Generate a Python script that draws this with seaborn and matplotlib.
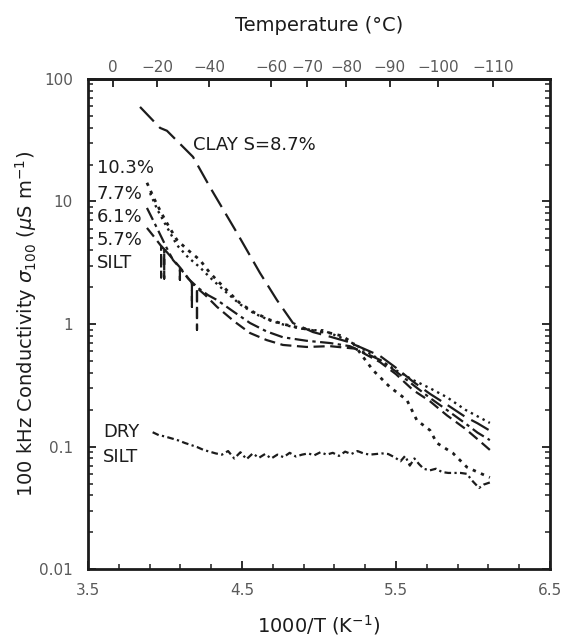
import numpy as np
import pandas as pd
import matplotlib
matplotlib.use("Agg")
import matplotlib.pyplot as plt
import seaborn as sns
from matplotlib.ticker import FixedLocator, FuncFormatter, NullFormatter, LogLocator

# ---------------- data (x = 1000/T, y = conductivity uS/m) ----------------
clay_x = [3.838, 3.968, 4.013, 4.182, 4.292, 4.468, 4.617, 4.727, 4.831, 4.961,
          5.07, 5.182, 5.29, 5.396, 5.50, 5.61, 5.72, 5.831, 5.95, 6.03, 6.11]
clay_y = [59.0, 39.8, 37.7, 23.1, 13.1, 5.53, 2.61, 1.57, 1.02, 0.86,
          0.79, 0.72, 0.63, 0.55, 0.44, 0.34, 0.27, 0.22, 0.175, 0.155, 0.135]

s103_x = [3.883, 3.93, 3.98, 4.03, 4.078, 4.15, 4.227, 4.292, 4.39, 4.487, 4.58,
          4.682, 4.78, 4.877, 4.97, 5.071, 5.15, 5.221, 5.286, 5.351, 5.461, 5.571,
          5.636, 5.721, 5.766, 5.87, 5.961, 6.03, 6.11]
s103_y = [14.2, 10.5, 7.9, 6.1, 4.85, 4.0, 3.33, 2.61, 1.95, 1.48, 1.24,
          1.08, 0.99, 0.93, 0.88, 0.845, 0.80, 0.70, 0.54, 0.42, 0.306, 0.24,
          0.164, 0.136, 0.107, 0.0885, 0.068, 0.062, 0.056]

s77_x = [3.903, 3.95, 4.0, 4.078, 4.15, 4.227, 4.292, 4.39, 4.487, 4.58, 4.682,
         4.78, 4.877, 4.97, 5.026, 5.182, 5.29, 5.396, 5.50, 5.61, 5.72, 5.831, 5.95, 6.11]
s77_y = [11.7, 8.6, 6.6, 4.4, 3.5, 2.9, 2.4, 1.85, 1.45, 1.22, 1.07,
         0.98, 0.92, 0.89, 0.89, 0.74, 0.62, 0.51, 0.42, 0.35, 0.30, 0.253, 0.20, 0.156]

s61_x = [3.883, 3.95, 4.01, 4.052, 4.097, 4.097, 4.097, 4.15, 4.22, 4.28, 4.338,
         4.45, 4.552, 4.66, 4.766, 4.92, 5.071, 5.20, 5.30, 5.396, 5.50, 5.61,
         5.72, 5.831, 5.95, 6.03, 6.11]
s61_y = [8.85, 6.0, 4.2, 3.33, 2.87, 2.3, 2.87, 2.35, 1.95, 1.72, 1.57,
         1.25, 1.02, 0.87, 0.78, 0.73, 0.70, 0.66, 0.58, 0.51, 0.41, 0.32,
         0.25, 0.199, 0.155, 0.13, 0.113]

s57_x = [3.883, 3.93, 3.975, 3.975, 3.975, 3.995, 3.995, 3.995, 4.05, 4.10, 4.16,
         4.175, 4.175, 4.175, 4.19, 4.208, 4.208, 4.208, 4.26, 4.338, 4.45, 4.552,
         4.66, 4.766, 4.92, 5.071, 5.234, 5.396, 5.50, 5.61, 5.72, 5.831, 5.95,
         6.03, 6.11]
s57_y = [6.08, 5.13, 4.33, 2.4, 4.33, 4.09, 2.35, 4.09, 3.40, 2.87, 2.29,
         2.16, 1.38, 2.16, 2.07, 1.97, 0.90, 1.97, 1.73, 1.38, 1.05, 0.845,
         0.74, 0.675, 0.65, 0.66, 0.63, 0.49, 0.39, 0.29, 0.235, 0.18, 0.14,
         0.115, 0.094]

dry_x = [3.92, 3.96, 4.00, 4.05, 4.09, 4.13, 4.17, 4.21, 4.25, 4.29, 4.33, 4.37,
         4.41, 4.45, 4.49, 4.53, 4.57, 4.61, 4.65, 4.69, 4.73, 4.77, 4.81, 4.85,
         4.89, 4.93, 4.97, 5.01, 5.05, 5.09, 5.13, 5.17, 5.21, 5.25, 5.29, 5.33,
         5.37, 5.41, 5.45, 5.49, 5.53, 5.56, 5.59, 5.62, 5.65, 5.68, 5.72, 5.76,
         5.80, 5.84, 5.88, 5.92, 5.96, 6.00, 6.04, 6.07, 6.11]
dry_y = [0.131, 0.124, 0.121, 0.116, 0.112, 0.107, 0.103, 0.099, 0.094, 0.091,
         0.088, 0.086, 0.092, 0.080, 0.090, 0.079, 0.088, 0.081, 0.087, 0.080,
         0.086, 0.082, 0.089, 0.083, 0.086, 0.088, 0.085, 0.090, 0.086, 0.089,
         0.084, 0.091, 0.087, 0.092, 0.088, 0.086, 0.087, 0.088, 0.087, 0.082,
         0.076, 0.084, 0.070, 0.080, 0.072, 0.066, 0.064, 0.066, 0.062, 0.061,
         0.061, 0.061, 0.060, 0.052, 0.046, 0.049, 0.051]

y_ticks = [0.01, 0.1, 1, 10, 100]
y_tick_labels = ["0.01", "0.1", "1", "10", "100"]
x_ticks = [3.5, 4.5, 5.5, 6.5]
x_tick_labels = ["3.5", "4.5", "5.5", "6.5"]
temp_ticks = [0, -20, -40, -60, -70, -80, -90, -100, -110]
temp_tick_labels = ["0", "\u221220", "\u221240", "\u221260", "\u221270", "\u221280",
                    "\u221290", "\u2212100", "\u2212110"]

# ---------------- style ----------------
sns.set_theme(style="ticks")
plt.rcParams["font.family"] = ["DejaVu Sans"]
plt.rcParams["axes.unicode_minus"] = True
plt.rcParams["mathtext.fontset"] = "dejavusans"
INK = "#1c1c1c"
TICKC = "#5a5a5a"

fig = plt.figure(figsize=(5.64, 6.41), dpi=100)
ax = fig.add_axes([0.156, 0.112, 0.819, 0.765])
ax.set_yscale("log")

series = [
    (clay_x, clay_y, (0, (9, 3.5)), 1.6),
    (s103_x, s103_y, (0, (1.2, 2.0)), 2.0),
    (s77_x, s77_y, (0, (1.0, 1.8)), 1.7),
    (s61_x, s61_y, (0, (6, 2, 1.5, 2)), 1.6),
    (s57_x, s57_y, (0, (5, 2.5)), 1.6),
    (dry_x, dry_y, (0, (3, 1.5, 1, 1.5)), 1.6),
]
for xs, ys, ls, lw in series:
    df = pd.DataFrame({"x": xs, "y": ys})
    sns.lineplot(data=df, x="x", y="y", ax=ax, sort=False, estimator=None,
                 color=INK, linewidth=lw)
    ax.lines[-1].set_linestyle(ls)

ax.set_xlim(3.5, 6.5)
ax.set_ylim(0.01, 100)

# ticks
ax.yaxis.set_major_locator(FixedLocator(y_ticks))
ax.yaxis.set_major_formatter(FuncFormatter(lambda v, p: y_tick_labels[y_ticks.index(v)] if v in y_ticks else ""))
ax.yaxis.set_minor_locator(LogLocator(base=10, subs=np.arange(2, 10)))
ax.yaxis.set_minor_formatter(NullFormatter())
ax.xaxis.set_major_locator(FixedLocator(x_ticks))
ax.set_xticklabels(x_tick_labels)
ax.xaxis.set_minor_locator(FixedLocator(list(np.arange(3.5, 6.5, 0.2))))

ax.tick_params(which="both", direction="in", top=False, right=True,
               color=INK, labelcolor=TICKC, labelsize=11)
ax.tick_params(which="major", length=6, width=1.3)
ax.tick_params(axis="y", which="major", pad=11)
ax.tick_params(axis="x", which="major", pad=10)
ax.tick_params(which="minor", length=3.5, width=1.1)
for sp in ax.spines.values():
    sp.set_linewidth(2.0)
    sp.set_color(INK)

# top temperature axis
def to_temp(x):
    x = np.asarray(x, dtype=float)
    with np.errstate(divide="ignore", invalid="ignore"):
        return 1000.0 / x - 273.15

def to_inv(t):
    t = np.asarray(t, dtype=float)
    with np.errstate(divide="ignore", invalid="ignore"):
        return 1000.0 / (t + 273.15)

sec = ax.secondary_xaxis("top", functions=(to_temp, to_inv))
sec.xaxis.set_major_locator(FixedLocator(temp_ticks))
sec.set_xticklabels(temp_tick_labels)
sec.xaxis.set_minor_locator(FixedLocator([]))
sec.tick_params(which="major", direction="in", length=6, width=1.3, pad=3,
                color=INK, labelcolor=TICKC, labelsize=11)
sec.spines["top"].set_linewidth(2.0)
sec.set_xlabel("Temperature (\u00b0C)", fontsize=14, color=INK, labelpad=21)

ax.set_xlabel("1000/T (K$^{-1}$)", fontsize=14, color=INK, labelpad=11)
ax.set_ylabel("100 kHz Conductivity $\\sigma_{100}$ ($\\mu$S m$^{-1}$)",
              fontsize=14, color=INK, labelpad=0)

# in-plot labels
lab_kw = dict(fontsize=13, color=INK, va="center", ha="left")
ax.text(3.558, 18.7, "10.3%", **lab_kw)
ax.text(3.558, 11.5, "7.7%", **lab_kw)
ax.text(3.558, 7.47, "6.1%", **lab_kw)
ax.text(3.558, 4.85, "5.7%", **lab_kw)
ax.text(3.558, 3.15, "SILT", **lab_kw)
ax.text(4.182, 28.9, "CLAY S=8.7%", **lab_kw)
ax.text(3.597, 0.131, "DRY", **lab_kw)
ax.text(3.597, 0.082, "SILT", **lab_kw)

fig.savefig("out.png", dpi=100)
